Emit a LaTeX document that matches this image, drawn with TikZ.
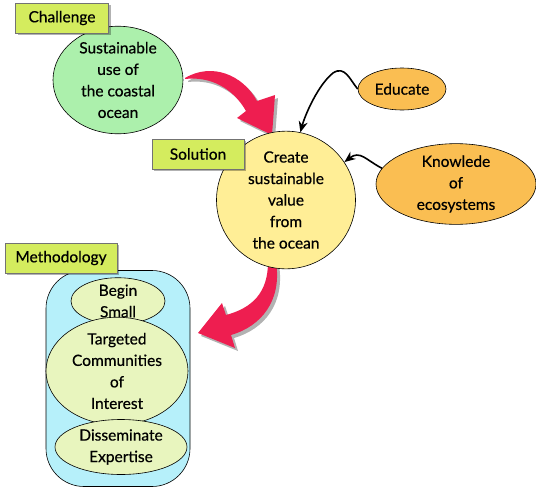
\documentclass[tikz,border=0pt]{standalone}
\usepackage{fontspec}
\setmainfont{Lato}[FakeBold=0.5]
\usetikzlibrary{shapes.geometric,shadows,arrows.meta}
\definecolor{tagfill}{RGB}{212,236,94}
\definecolor{greenfill}{RGB}{172,240,172}
\definecolor{yellowfill}{RGB}{255,238,150}
\definecolor{orangefill}{RGB}{250,190,82}
\definecolor{bluefill}{RGB}{182,240,250}
\definecolor{palefill}{RGB}{232,245,190}
\definecolor{arrowred}{RGB}{238,30,80}
\pgfdeclarelayer{bg}
\pgfsetlayers{bg,main}
\begin{document}
\begin{tikzpicture}[x=1pt,y=-1pt,
  txt/.style={font=\fontsize{15.5}{21.5}\selectfont, align=center, text=black},
  tag/.style={draw=black!55, fill=tagfill, minimum height=30pt, inner sep=0pt, txt,
    drop shadow={shadow xshift=2pt, shadow yshift=-2pt, opacity=0.3, fill=black}},
  oval/.style={ellipse, draw=black, line width=0.6pt, inner sep=0pt, txt},
  bigarrow/.style={fill=arrowred, drop shadow={shadow xshift=3pt, shadow yshift=-3pt, opacity=0.3, fill=black}},
  blk/.style={line width=1.6pt, -{Stealth[length=11pt,width=9pt]}}]
\useasboundingbox (0,0) rectangle (536,488);

% methodology container
\node[draw=black, line width=0.6pt, fill=bluefill, rounded corners=38pt,
      minimum width=144pt, minimum height=216pt] (meth) at (118,378.5) {};

% ovals
\node[oval, fill=greenfill, minimum width=130pt, minimum height=105pt] (chal) at (118,80)
  {Sustainable\\use of\\the coastal\\ocean};
\node[oval, fill=yellowfill, minimum width=139pt, minimum height=125pt] (cs) at (286,200)
  {Create\\sustainable\\value\\from\\the ocean};
\node[oval, fill=orangefill, minimum width=88pt, minimum height=42pt] (edu) at (402,89) {Educate};
\node[oval, fill=orangefill, minimum width=160pt, minimum height=79pt] (know) at (456,184)
  {Knowlede\\of\\ecosystems};
\node[oval, fill=palefill, minimum width=94pt, minimum height=42pt] (begin) at (118,301)
  {Begin\\Small};
\node[oval, fill=palefill, minimum width=142pt, minimum height=82pt] (target) at (117,371)
  {Targeted\\Communities\\of\\Interest};
\node[oval, fill=palefill, minimum width=132pt, minimum height=55pt] (diss) at (121,447)
  {Disseminate\\Expertise};

% tags
\node[tag, minimum width=93pt] (tchal) at (62,18) {Challenge};
\node[tag, minimum width=92pt] (tsol) at (198,154) {Solution};
\node[tag, minimum width=112pt] (tmeth) at (61,258) {Methodology};

% red block arrows
\begin{pgfonlayer}{bg}
\fill[bigarrow] (185,78) .. controls (212,62) and (243,75) .. (257,101) -- (275,95)
  -- (272,135) -- (237,118) -- (246,111) .. controls (233,88) and (210,76) .. (185,79) -- cycle;
\fill[bigarrow] (268,262) .. controls (268,293) and (252,308) .. (226,315) -- (222,303)
  -- (198,333) -- (235,348) -- (231,335) .. controls (262,326) and (282,300) .. (276,262) -- cycle;
\end{pgfonlayer}

% black arrows
\draw[blk] (edu.west) .. controls (350,80) and (345,65) .. (333,73)
  .. controls (318,85) and (305,115) .. (cs.78);
\draw[blk] (know.168) .. controls (366,160) and (360,150) .. (cs.33);
\end{tikzpicture}
\end{document}
